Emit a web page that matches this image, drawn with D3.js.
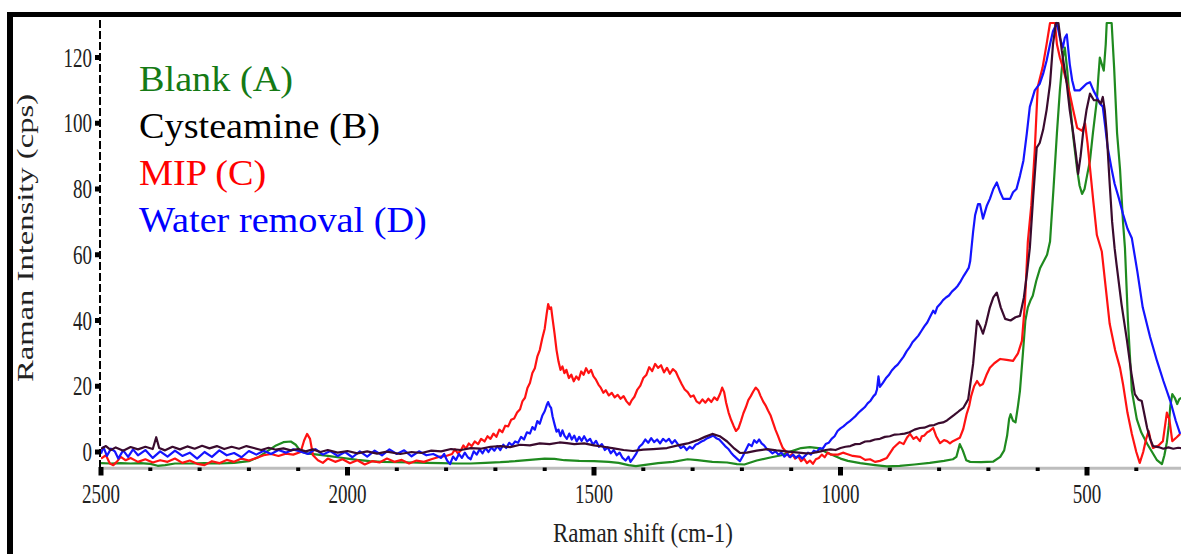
<!DOCTYPE html>
<html><head><meta charset="utf-8">
<script src="https://cdn.jsdelivr.net/npm/d3@7"></script>
<style>html,body{margin:0;padding:0;background:#fff;overflow:hidden}svg{display:block}text{font-family:"Liberation Serif","Times New Roman",serif}</style>
</head><body><svg id="c" width="1181" height="554"></svg>
<script>
// ---- data: [Raman shift cm-1, intensity cps] ----
const seriesNames = ["Blank (A)", "Cysteamine (B)", "MIP (C)", "Water removal (D)"];
const xTickValues = [2500, 2000, 1500, 1000, 500];
const yTickValues = [0, 20, 40, 60, 80, 100, 120];

const blankSpectrum = [[2500,-3.4],[2480,-3.5],[2460,-3.4],[2440,-3.5],[2420,-3.4],[2400,-3.6],[2385,-4.2],[2370,-4.0],[2350,-3.5],[2320,-3.5],[2290,-3.4],[2260,-3.5],[2230,-3.3],[2200,-2.8],[2180,-1.5],[2160,0.5],[2145,2.0],[2130,3.0],[2115,3.2],[2105,2.2],[2095,0.2],[2080,-0.5],[2060,-0.8],[2040,-1.2],[2020,-1.6],[2000,-2.0],[1980,-2.4],[1955,-2.8],[1930,-3.0],[1900,-3.1],[1870,-3.2],[1840,-3.3],[1810,-3.4],[1780,-3.5],[1750,-3.5],[1720,-3.3],[1690,-3.1],[1660,-2.8],[1630,-2.4],[1600,-2.0],[1580,-2.1],[1560,-2.5],[1530,-2.7],[1500,-2.8],[1470,-3.0],[1450,-3.3],[1430,-4.0],[1415,-4.3],[1400,-4.0],[1370,-3.4],[1340,-3.0],[1310,-2.2],[1290,-2.5],[1260,-3.0],[1230,-3.2],[1210,-3.7],[1195,-3.8],[1170,-2.6],[1140,-1.6],[1120,-1.0],[1100,0.2],[1080,1.2],[1062,1.5],[1045,1.2],[1030,0.0],[1015,-1.0],[1000,-2.0],[985,-2.7],[960,-3.4],[930,-4.0],[906,-4.4],[880,-4.2],[850,-3.8],[819,-3.3],[790,-2.7],[772,-2.2],[765,-1.5],[758,2.4],[752,0.5],[745,-2.5],[737,-3.0],[715,-3.1],[690,-2.9],[676,-1.5],[668,0.5],[662,5],[658,10],[655,11.5],[650,9.5],[645,9],[640,14],[636,18.6],[630,30],[625,40],[620,44],[615,46],[610,47.5],[603,52],[595,56],[581,60],[575,64],[568,80],[561,97],[555,110],[549,120],[545,123],[540,116],[535,107],[528,96],[520,86],[515,81],[510,78.5],[505,80],[500,84],[494,88.6],[488,97],[480,107],[477,114],[474,120],[470,118],[466,116],[462,124],[460,130.5],[455,130.5],[450,130.5],[448,125],[445,117],[439,97],[433,86],[427,70],[423,62],[417,40],[409,18.6],[399,10],[390,6],[378,2.5],[368,0],[358,-2.5],[348,-3.7],[343,-1.0],[338,3],[334,8],[331,14],[327,17.6],[322,16.5],[317,14.6],[313,16],[309,16.5]];

const cysteamineSpectrum = [[2500,1.0],[2490,1.8],[2480,0.6],[2470,1.4],[2455,0.4],[2440,1.5],[2425,0.8],[2410,1.6],[2395,0.9],[2388,4.5],[2382,1.2],[2370,0.5],[2355,1.6],[2340,0.8],[2325,1.7],[2310,1.0],[2295,1.9],[2280,1.1],[2265,1.8],[2250,0.9],[2235,1.6],[2220,1.0],[2205,1.8],[2190,1.2],[2175,0.6],[2160,1.3],[2145,0.7],[2130,1.1],[2115,0.5],[2100,0.9],[2085,0.2],[2070,0.8],[2055,0.0],[2040,0.6],[2020,-0.2],[2000,0.3],[1980,-0.4],[1960,0.2],[1940,-0.5],[1920,0.1],[1893,-0.6],[1870,0.0],[1850,-0.3],[1830,0.4],[1810,0.2],[1790,0.9],[1770,0.6],[1750,1.2],[1730,1.0],[1710,1.6],[1690,1.8],[1670,1.5],[1650,2.2],[1630,2.0],[1610,2.6],[1590,2.4],[1570,2.9],[1555,2.7],[1540,2.4],[1520,2.6],[1500,2.0],[1480,1.6],[1460,1.1],[1440,0.6],[1421,0.3],[1400,0.7],[1380,0.9],[1352,1.2],[1330,2.0],[1310,2.6],[1290,3.6],[1275,4.6],[1260,5.5],[1245,4.8],[1230,3.2],[1215,1.0],[1204,-0.3],[1190,-0.2],[1170,0.4],[1149,0.9],[1130,0.5],[1110,0.2],[1090,-0.1],[1070,-0.4],[1056,-0.3],[1040,0.2],[1030,0.6],[1020,0.8],[1010,0.6],[1000,1.2],[990,1.6],[980,1.8],[970,2.4],[960,2.5],[950,3.2],[940,3.3],[930,3.8],[920,4.0],[910,4.6],[900,4.8],[890,5.3],[880,5.4],[870,5.6],[860,6.0],[850,6.8],[839,7.3],[830,7.4],[820,8.0],[810,8.2],[800,8.8],[792,9.0],[784,9.6],[770,11.2],[760,12.4],[751,13.4],[741,16],[731,26.8],[723,40],[716,38],[711,36],[705,39],[697,44],[690,47],[683,48.5],[675,44],[666,40.5],[655,40],[645,41],[636,41.4],[628,47],[622,54],[616,62],[609,78],[602,92.6],[596,94],[589,98],[582,104],[575,112],[569,124],[563,130.5],[558,130.5],[551,122],[546,117],[541,112],[535,104],[528,97],[522,90],[518,84.6],[513,90],[508,97],[501,104],[494,109],[486,107],[478,107],[472,106],[468,108],[464,104],[460,97],[454,81.6],[449,70],[444,62],[440,57],[430,45],[419,34],[410,24],[403,17.6],[396,16],[389,15.5],[383,11],[378,7.3],[372,4],[366,1.8],[355,1.5],[345,1.0],[335,1.4],[325,1.0],[315,1.3],[309,1.2]];

const mipSpectrum = [[2500,-2.0],[2490,-1.0],[2482,-3.5],[2475,-4.0],[2468,-3.0],[2460,-1.5],[2450,-2.5],[2440,-1.8],[2425,-3.0],[2410,-2.2],[2395,-3.2],[2380,-2.5],[2365,-3.0],[2350,-2.0],[2335,-3.3],[2320,-2.6],[2305,-3.6],[2290,-4.0],[2275,-2.8],[2260,-3.4],[2245,-2.4],[2230,-3.0],[2215,-2.0],[2200,-2.6],[2185,-1.8],[2170,-1.0],[2155,-0.6],[2140,-1.2],[2125,-0.5],[2110,-0.8],[2095,0.0],[2088,3.5],[2082,5.5],[2076,4.0],[2070,-1.0],[2060,-2.5],[2050,-3.3],[2040,-2.0],[2025,-3.0],[2010,-2.2],[1995,-3.4],[1980,-2.5],[1965,-3.8],[1950,-2.8],[1935,-3.2],[1920,-2.0],[1905,-3.0],[1890,-2.4],[1875,-3.5],[1860,-2.6],[1845,-3.0],[1830,-2.2],[1815,-1.5],[1800,-1.2],
[1788,-0.6],[1782,0.8],[1776,-0.4],[1770,0.5],[1765,2.0],[1760,1.0],[1754,2.6],[1748,1.8],[1742,3.2],[1735,2.4],[1729,4.0],[1722,3.2],[1716,4.8],[1710,4.0],[1704,5.6],[1698,4.6],[1692,6.8],[1686,6.0],[1680,8.0],[1674,7.8],[1668,9.8],[1662,10.2],[1656,12.0],[1650,13.0],[1645,15.5],[1640,16.5],[1635,19.5],[1630,21.0],[1625,24.0],[1620,25.5],[1615,29.0],[1610,31.0],[1605,34.5],[1600,37.5],[1596,42.0],[1593,45.0],[1590,43.5],[1587,44.0],[1584,40.5],[1580,36.0],[1576,31.0],[1572,27.5],[1568,25.0],[1564,26.0],[1560,24.0],[1556,25.0],[1551,22.5],[1546,23.5],[1541,21.5],[1536,23.0],[1531,22.0],[1526,24.5],[1521,23.5],[1516,25.5],[1511,24.0],[1506,25.0],[1501,23.0],[1496,22.0],[1491,20.5],[1486,19.5],[1481,18.0],[1476,18.8],[1470,17.2],[1464,18.0],[1458,16.6],[1452,17.4],[1446,16.2],[1440,17.0],[1434,15.4],[1428,14.4],[1424,15.6],[1418,16.8],[1412,19.0],[1406,20.2],[1400,22.5],[1394,23.4],[1388,25.8],[1382,24.6],[1376,26.8],[1370,25.6],[1364,26.4],[1358,24.2],[1352,25.6],[1346,23.8],[1340,25.2],[1334,24.4],[1328,22.4],[1322,20.6],[1316,19.0],[1310,18.2],[1304,16.8],[1298,17.2],[1292,15.4],[1286,14.8],[1280,16.0],[1274,15.0],[1268,16.2],[1262,15.2],[1256,16.6],[1250,15.8],[1244,17.8],[1240,19.6],[1236,18.2],[1232,15.0],[1227,12.0],[1222,9.8],[1217,8.0],[1212,6.4],[1207,7.2],[1202,9.4],[1197,11.8],[1192,13.6],[1187,15.8],[1182,17.0],[1177,18.4],[1172,19.6],[1167,18.8],[1162,17.0],[1157,15.4],[1152,14.2],[1147,12.6],[1142,11.2],[1137,9.0],[1132,6.8],[1127,5.0],[1122,3.0],[1117,1.2],[1110,0.0],[1104,-1.4],[1098,-0.6],[1092,-2.0],[1086,-1.2],[1080,-2.8],[1074,-2.0],[1068,-3.4],[1062,-2.6],[1056,-3.6],[1050,-2.2],[1044,-1.8],[1038,-0.8],[1032,-1.6],[1026,-0.2],[1020,-0.8],
[1005,-0.8],[995,-0.2],[987,-0.6],[975,-1.2],[960,-1.5],[950,-2.4],[940,-2.2],[930,-3.0],[920,-2.7],[906,-1.8],[900,-0.4],[893,1.2],[886,2.2],[880,3.0],[872,2.4],[865,4.4],[859,5.5],[852,4.0],[846,4.6],[839,3.3],[835,4.8],[830,5.0],[824,6.0],[819,6.4],[812,7.3],[806,4.8],[798,2.7],[790,3.6],[784,3.3],[778,2.6],[772,3.3],[765,3.8],[758,4.3],[751,7.0],[744,11.6],[739,14.0],[735,17],[729,20.0],[723,21.6],[717,20.2],[711,20.7],[704,23.4],[697,25.6],[688,27],[676,28.3],[663,28],[650,27.7],[640,30],[632,33.8],[626,45],[620,64],[613,75],[606,91.6],[600,111],[590,117],[582,124],[575,130.5],[565,130.5],[561,124],[555,120],[549,117],[542,113],[535,109],[528,104],[520,98.6],[510,97.7],[504,100],[499,94],[494,86.5],[487,76],[480,66],[470,61],[462,50],[454,39],[443,31],[433,25.6],[427,20.7],[418,12],[409,5.5],[400,0],[393,-3.3],[386,0],[380,4],[375,6.4],[370,3],[366,1.2],[355,2.0],[346,3.3],[338,12],[333,10],[327,3.3],[318,4.5],[311,5.5]];

const waterSpectrum = [[2500,-0.5],[2495,1.5],[2488,-1.2],[2480,1.0],[2472,0.2],[2465,-2.0],[2455,0.5],[2445,-1.5],[2435,0.8],[2425,-1.0],[2410,0.6],[2395,-1.8],[2380,0.2],[2365,-1.4],[2350,0.4],[2335,-1.2],[2320,-0.2],[2305,-2.0],[2290,0.0],[2275,-1.5],[2260,0.5],[2245,-1.0],[2230,-0.3],[2215,-1.6],[2200,0.3],[2185,-0.8],[2170,0.4],[2155,-0.6],[2140,0.6],[2125,-0.2],[2110,0.8],[2096,0.2],[2080,-0.6],[2065,0.9],[2050,-0.8],[2035,0.3],[2020,-1.2],[2005,0.0],[1990,-1.6],[1975,0.2],[1960,-1.4],[1945,0.4],[1930,-1.0],[1915,0.8],[1900,-0.6],[1885,0.5],[1870,-1.3],[1855,0.2],[1840,-1.0],[1826,-0.6],
[1810,-1.8],[1804,-0.6],[1798,-2.6],[1792,-3.7],[1786,-1.4],[1780,-2.4],[1774,-0.6],[1768,-1.8],[1762,-0.2],[1756,-1.6],[1750,-2.2],[1744,0.2],[1738,-0.8],[1732,0.8],[1726,-0.4],[1720,1.2],[1714,0.0],[1708,1.4],[1702,0.4],[1696,1.8],[1690,0.6],[1684,2.2],[1678,1.2],[1672,2.8],[1666,2.0],[1660,3.2],[1654,2.8],[1648,4.6],[1642,3.8],[1636,6.0],[1630,5.6],[1625,7.6],[1620,6.8],[1615,9.4],[1610,8.6],[1605,11.0],[1600,12.4],[1596,14.2],[1593,15.2],[1590,14.0],[1587,13.4],[1584,10.8],[1580,8.4],[1576,6.2],[1572,6.8],[1568,4.8],[1564,6.6],[1560,5.0],[1555,4.0],[1550,5.6],[1545,3.8],[1540,5.0],[1535,3.2],[1530,4.6],[1525,3.4],[1520,4.8],[1514,3.2],[1508,4.0],[1502,2.2],[1496,3.4],[1490,1.6],[1484,2.4],[1478,0.6],[1472,1.4],[1466,-0.4],[1460,0.6],[1454,-1.0],[1448,-0.2],[1442,-1.8],[1436,-2.6],[1430,-1.4],[1426,-3.0],[1420,-1.8],[1414,-0.4],[1408,1.6],[1402,2.4],[1396,3.8],[1390,2.8],[1384,4.2],[1378,3.0],[1372,3.8],[1366,2.6],[1360,4.0],[1354,3.2],[1348,4.0],[1342,2.6],[1336,3.6],[1330,2.4],[1324,1.2],[1318,1.8],[1312,0.6],[1306,1.6],[1300,1.0],[1294,2.2],[1288,2.6],[1282,3.2],[1276,3.6],[1270,4.2],[1264,4.6],[1258,5.0],[1252,4.2],[1246,3.8],[1240,2.8],[1234,1.8],[1228,1.0],[1222,-0.2],[1216,-1.2],[1210,-2.0],[1204,-2.8],[1198,-1.2],[1192,0.6],[1186,2.4],[1180,1.8],[1175,3.6],[1170,2.8],[1165,3.8],[1160,2.6],[1155,2.0],[1150,1.0],[1144,0.4],[1138,-0.4],[1132,0.2],[1126,-0.8],[1120,-0.2],[1114,-1.4],[1108,-0.6],[1102,-1.6],[1096,-0.8],[1090,-1.8],[1084,-1.0],[1078,-2.0],[1072,-1.2],[1066,-0.2],[1060,-0.8],[1054,0.4],[1048,0.0],[1042,1.2],[1036,1.0],[1030,2.4],[1024,2.8],[1018,4.0],[1012,4.8],[1006,6.4],[1000,7.2],[994,7.8],[988,8.6],[981,9.4],
[975,10.2],[969,11.0],[963,12.0],[957,12.8],[951,13.6],[945,14.8],[939,15.6],[933,17.0],[929,17.6],[926,19.0],[923,23.0],[920,19.8],[914,21.0],[908,22.4],[902,23.4],[896,24.8],[890,25.8],[884,26.6],[878,27.8],[872,29.0],[866,30.6],[860,31.8],[854,33.4],[848,34.4],[842,35.4],[836,36.8],[830,38.2],[824,39.4],[818,41.2],[812,43.0],[808,42.2],[804,44.0],[798,45.0],[792,46.2],[786,47.0],[780,47.6],[774,48.8],[768,49.6],[762,50.6],[756,52.0],[750,53.6],[744,55.0],[740,56.0],
[737,58],[731,67],[727,72],[721,75.4],[717,75.4],[711,71],[703,75],[697,77],[690,80],[683,82],[676,79],[670,77],[663,77],[656,77],[650,79],[643,80],[636,84],[629,88.6],[622,97],[616,105],[606,110],[596,112],[589,115],[582,119],[575,124],[569,128],[561,130.5],[555,126],[549,123],[545,126],[541,127],[535,118],[530,113],[525,110],[515,110],[508,111],[501,112],[494,112.5],[487,110],[480,108],[474,106],[468,105],[463,99],[458,92.6],[450,86],[444,81.6],[435,77],[427,72.4],[418,68],[409,65],[398,55],[387,44],[372,35],[358,27.7],[345,21.6],[331,15.5],[320,9.5],[311,5.5]];

// ---- layout ----
const W = 1181, H = 554;
const svg = d3.select("#c");
const x = d3.scaleLinear().domain([2500, 500]).range([101, 1087]);
const y = d3.scaleLinear().domain([0, 120]).range([452, 57.5]);
const plotTop = 20, plotBottom = 470, plotLeft = 101, plotRight = W;

const colors = ["#1f8a1f", "#3a0b2e", "#ff1212", "#1414ff"];
const legendColors = ["#157a15", "#000000", "#ff0000", "#0000ff"];

svg.append("rect").attr("width", W).attr("height", H).attr("fill", "#fff");

svg.append("defs").append("clipPath").attr("id", "clip")
  .append("rect").attr("x", plotLeft).attr("y", plotTop)
  .attr("width", plotRight - plotLeft).attr("height", plotBottom - plotTop);

// x axis line (gray) and square ticks
svg.append("line").attr("x1", plotLeft).attr("x2", plotRight).attr("y1", 468.3).attr("y2", 468.3)
  .attr("stroke", "#bdbdbd").attr("stroke-width", 3);
const minorTicks = d3.range(2500, 299, -100);
svg.append("g").selectAll("rect").data(minorTicks).join("rect")
  .attr("x", d => x(d) - (d % 500 === 0 ? 2.5 : 2))
  .attr("y", d => d % 500 === 0 ? 467 : 467.5)
  .attr("width", d => d % 500 === 0 ? 5 : 4)
  .attr("height", d => d % 500 === 0 ? 8.5 : 3.5)
  .attr("fill", "#000");

// x tick labels
svg.append("g").selectAll("text").data(xTickValues).join("text")
  .attr("transform", d => `translate(${x(d)},503) scale(1,1.4)`)
  .attr("text-anchor", "middle").attr("font-size", 19).attr("fill", "#222")
  .text(d => d);

// y axis dashed line & ticks
svg.append("line").attr("x1", 100).attr("x2", 100).attr("y1", plotTop).attr("y2", 475)
  .attr("stroke", "#000").attr("stroke-width", 2).attr("stroke-dasharray", "8,3");
svg.append("g").selectAll("rect").data(yTickValues).join("rect")
  .attr("x", 95).attr("y", d => y(d) - 2.5).attr("width", 5).attr("height", 5).attr("fill", "#000");
svg.append("g").selectAll("text").data(yTickValues).join("text")
  .attr("transform", d => `translate(92,${y(d) + 9}) scale(1,1.4)`)
  .attr("text-anchor", "end").attr("font-size", 19).attr("fill", "#222")
  .text(d => d);

// axis titles
svg.append("text").attr("transform", "translate(643,542) scale(1,1.18)")
  .attr("text-anchor", "middle").attr("font-size", 23).attr("fill", "#222")
  .text("Raman shift (cm-1)");
svg.append("text").attr("transform", "translate(33,238) rotate(-90) scale(1.36,1)")
  .attr("text-anchor", "middle").attr("font-size", 24).attr("fill", "#222")
  .text("Raman Intensity (cps)");

// lines
const spectra = [blankSpectrum, cysteamineSpectrum, mipSpectrum, waterSpectrum];
const line = d3.line().x(d => x(d[0])).y(d => y(d[1]));
const order = [0, 2, 3, 1];
const lg = svg.append("g").attr("clip-path", "url(#clip)");
order.forEach(i => {
  lg.append("path").datum(spectra[i]).attr("d", line)
    .attr("fill", "none").attr("stroke", colors[i]).attr("stroke-width", 2.2)
    .attr("stroke-linejoin", "round");
});

// frame (thick black border cut off at right/bottom)
svg.append("rect").attr("x", 7).attr("y", 12).attr("width", W).attr("height", 5).attr("fill", "#000");
svg.append("rect").attr("x", 7).attr("y", 12).attr("width", 6).attr("height", H).attr("fill", "#000");

// legend
svg.append("g").selectAll("text").data(seriesNames).join("text")
  .attr("transform", (d, i) => `translate(139,${91 + i * 47}) scale(1.02,0.95)`)
  .attr("font-size", 37.5).attr("fill", (d, i) => legendColors[i])
  .text(d => d);
</script></body></html>
